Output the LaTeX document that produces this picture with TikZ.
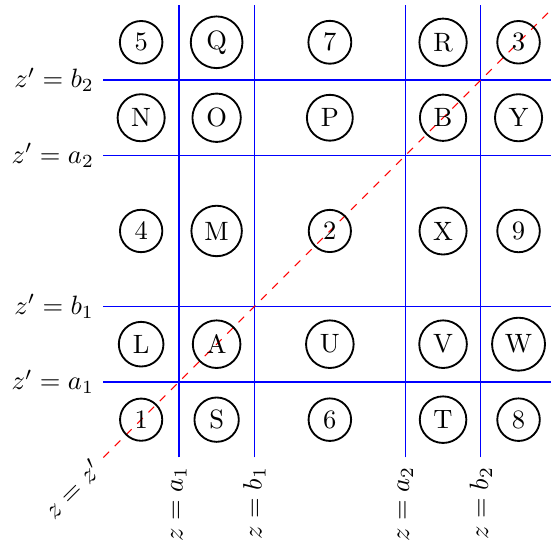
\documentclass[tikz,border=0pt]{standalone}
\usetikzlibrary{positioning}
\tikzset{
  region/.style={
    draw,
    circle,
    line width=0.7pt,
    inner sep=2.7pt
  },
  bound/.style={
    draw=blue,
    line width=0.5pt
  },
  diag/.style={
    draw=red,
    dashed
  }
}

\begin{document}
\begin{tikzpicture}

\useasboundingbox (-0.37,-0.18) rectangle (6.93,7.06);
\clip (-0.37,-0.18) rectangle (6.93,7.06);

% boundaries in z
\draw[bound] (2,1) node[rotate=90, anchor=east] (za1) {$z=a_1$} -- (2,7);
\draw[bound] (3,1) node[rotate=90, anchor=east] (zb1) {$z=b_1$} -- (3,7);
\draw[bound] (5,1) node[rotate=90, anchor=east] (za2) {$z=a_2$} -- (5,7);
\draw[bound] (6,1) node[rotate=90, anchor=east] (zb2) {$z=b_2$} -- (6,7);

% boundaries in z'
\draw[bound] (1,2) node[left] (wa1) {$z'=a_1$} -- (7,2);
\draw[bound] (1,3) node[left] (wb1) {$z'=b_1$} -- (7,3);
\draw[bound] (1,5) node[left] (wa2) {$z'=a_2$} -- (7,5);
\draw[bound] (1,6) node[left] (wb2) {$z'=b_2$} -- (7,6);

% diagonal
\draw[diag] (1,1) node[rotate=45, anchor=east] (zz) {$z=z'$} -- (7,7);

% regions
\node[region] (r5) at (1.5,6.5) {5};
\node[region] (rQ) at (2.5,6.5) {Q};
\node[region] (r7) at (4,6.5) {7};
\node[region] (rR) at (5.5,6.5) {R};
\node[region] (r3) at (6.5,6.5) {3};

\node[region] (rN) at (1.5,5.5) {N};
\node[region] (rO) at (2.5,5.5) {O};
\node[region] (rP) at (4,5.5) {P};
\node[region] (rB) at (5.5,5.5) {B};
\node[region] (rY) at (6.5,5.5) {Y};

\node[region] (r4) at (1.5,4) {4};
\node[region] (rM) at (2.5,4) {M};
\node[region] (r2) at (4,4) {2};
\node[region] (rX) at (5.5,4) {X};
\node[region] (r9) at (6.5,4) {9};

\node[region] (rL) at (1.5,2.5) {L};
\node[region] (rA) at (2.5,2.5) {A};
\node[region] (rU) at (4,2.5) {U};
\node[region] (rV) at (5.5,2.5) {V};
\node[region] (rW) at (6.5,2.5) {W};

\node[region] (r1) at (1.5,1.5) {1};
\node[region] (rS) at (2.5,1.5) {S};
\node[region] (r6) at (4,1.5) {6};
\node[region] (rT) at (5.5,1.5) {T};
\node[region] (r8) at (6.5,1.5) {8};

\end{tikzpicture}
\end{document}
